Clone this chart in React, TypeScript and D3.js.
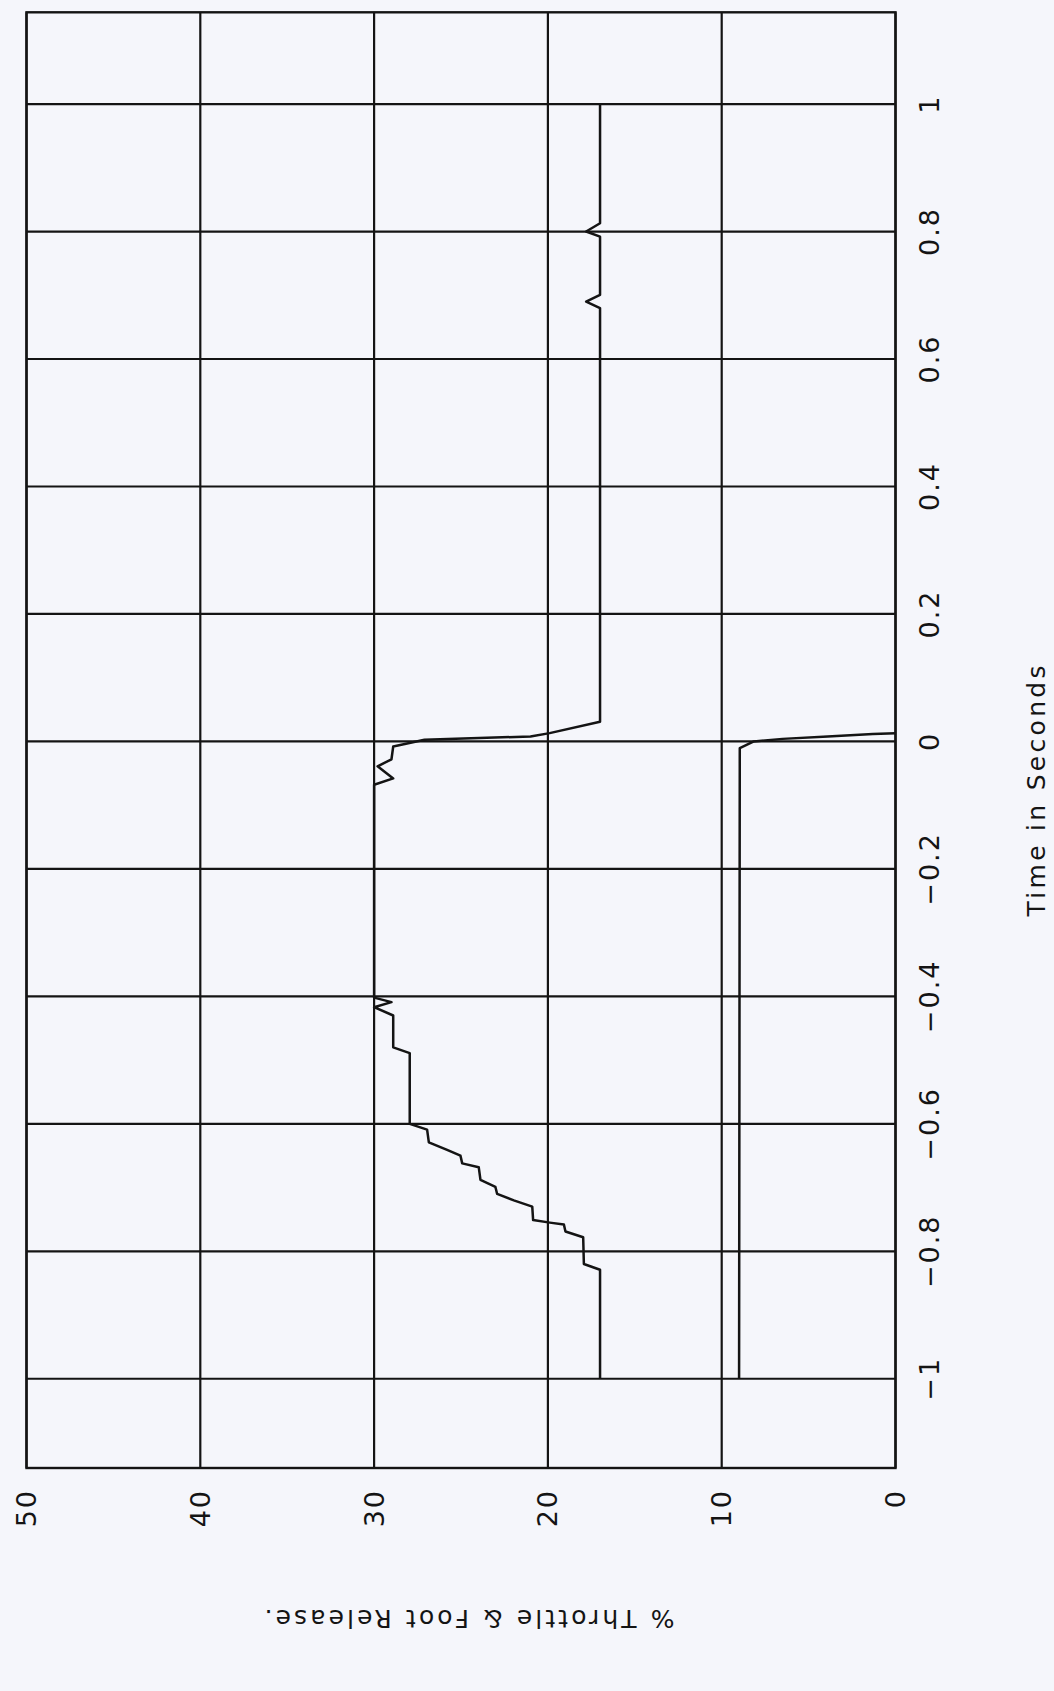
import React, { useRef, useEffect } from "react";
import * as d3 from "d3";

// time in seconds, % throttle (upper trace)
const throttleTime = [
  -1.0, -0.829, -0.82, -0.778, -0.769, -0.758, -0.755, -0.751, -0.73, -0.72,
  -0.71, -0.699, -0.688, -0.668, -0.662, -0.65, -0.641, -0.629, -0.609, -0.6,
  -0.489, -0.48, -0.43, -0.417, -0.409, -0.402, -0.068, -0.058, -0.039, -0.028,
  -0.008, 0.0025, 0.0078, 0.013, 0.031, 0.68, 0.69, 0.7007, 0.792, 0.8, 0.813,
  1.0,
];
const throttleValue = [
  17.0, 17.0, 17.93, 17.97, 18.99, 19.08, 19.89, 20.85, 20.9, 21.96, 22.92,
  23.02, 23.88, 23.98, 24.93, 25.03, 25.8, 26.85, 26.95, 27.95, 27.95, 28.9,
  28.9, 30.0, 29.0, 30.0, 30.0, 28.9, 29.8, 29.0, 28.9, 27.1, 21.0, 19.9, 17.0,
  17.0, 17.8, 17.0, 17.0, 17.8, 17.0, 17.0,
];

// foot release (lower trace)
const footTime = [-1.0, -0.0105, 0.0, 0.004, 0.0077, 0.0115, 0.013];
const footValue = [9.0, 8.96, 8.15, 6.5, 3.9, 1.3, 0.0];

const timeTicks = [-1, -0.8, -0.6, -0.4, -0.2, 0, 0.2, 0.4, 0.6, 0.8, 1];
const timeTickLabels = [
  "\u22121", "\u22120.8", "\u22120.6", "\u22120.4", "\u22120.2", "0",
  "0.2", "0.4", "0.6", "0.8", "1",
];
const valueTicks = [0, 10, 20, 30, 40, 50];

const width = 1054;
const height = 1691;
const plotLeft = 26.5;
const plotBottom = 1468;
const W = 1455.7; // time axis length (vertical on screen)
const H = 869; // value axis length (horizontal on screen)
const font = "'DejaVu Sans', sans-serif";
const ink = "#141414";

const App: React.FC = () => {
  const ref = useRef<SVGSVGElement>(null);

  useEffect(() => {
    if (!ref.current) return;
    const svg = d3.select(ref.current);
    svg.selectAll("*").remove();

    svg
      .append("rect")
      .attr("width", width)
      .attr("height", height)
      .attr("fill", "#f5f6fb");

    // chart is drawn upright, then turned a quarter turn like the printout
    const g = svg
      .append("g")
      .attr("transform", `translate(${plotLeft},${plotBottom}) rotate(-90)`);

    const x = d3.scaleLinear().domain([-1.14, 1.144]).range([0, W]);
    const y = d3.scaleLinear().domain([0, 50]).range([H, 0]);

    g.selectAll(".tgrid")
      .data(timeTicks)
      .enter()
      .append("line")
      .attr("x1", (d) => x(d))
      .attr("x2", (d) => x(d))
      .attr("y1", 0)
      .attr("y2", H)
      .attr("stroke", ink)
      .attr("stroke-width", 2.2);

    g.selectAll(".vgrid")
      .data(valueTicks)
      .enter()
      .append("line")
      .attr("x1", 0)
      .attr("x2", W)
      .attr("y1", (d) => y(d))
      .attr("y2", (d) => y(d))
      .attr("stroke", ink)
      .attr("stroke-width", 2.2);

    g.append("rect")
      .attr("width", W)
      .attr("height", H)
      .attr("fill", "none")
      .attr("stroke", ink)
      .attr("stroke-width", 2.4);

    const drawSeries = (ts: number[], vs: number[]) => {
      const pts: [number, number][] = ts.map((t, i) => [x(t), y(vs[i])]);
      g.append("path")
        .attr("d", d3.line()(pts) as string)
        .attr("fill", "none")
        .attr("stroke", ink)
        .attr("stroke-width", 2.5)
        .attr("stroke-linejoin", "round");
    };
    drawSeries(throttleTime, throttleValue);
    drawSeries(footTime, footValue);

    g.selectAll(".tlab")
      .data(timeTicks)
      .enter()
      .append("text")
      .attr("x", (d) => x(d))
      .attr("y", H + 34)
      .attr("text-anchor", "middle")
      .attr("dominant-baseline", "central")
      .attr("font-family", font)
      .attr("font-size", 27)
      .attr("letter-spacing", 2)
      .attr("fill", ink)
      .text((d, i) => timeTickLabels[i]);

    g.selectAll(".vlab")
      .data(valueTicks)
      .enter()
      .append("text")
      .attr("x", -21)
      .attr("y", (d) => y(d))
      .attr("text-anchor", "end")
      .attr("dominant-baseline", "central")
      .attr("font-family", font)
      .attr("font-size", 27)
      .attr("letter-spacing", 2)
      .attr("fill", ink)
      .text((d) => String(d));

    g.append("text")
      .attr("x", 677)
      .attr("y", 1010)
      .attr("text-anchor", "middle")
      .attr("dominant-baseline", "central")
      .attr("font-family", font)
      .attr("font-size", 25)
      .attr("textLength", 251)
      .attr("lengthAdjust", "spacing")
      .attr("fill", ink)
      .text("Time in Seconds");

    g.append("text")
      .attr("transform", `translate(-150,443) rotate(-90)`)
      .attr("text-anchor", "middle")
      .attr("dominant-baseline", "central")
      .attr("font-family", font)
      .attr("font-size", 25)
      .attr("textLength", 410)
      .attr("lengthAdjust", "spacing")
      .attr("fill", ink)
      .text("% Throttle & Foot Release.");
  }, []);

  return (
    <div style={{ position: "absolute", left: 0, top: 0 }}>
      <svg ref={ref} width={width} height={height} />
    </div>
  );
};

export default App;
